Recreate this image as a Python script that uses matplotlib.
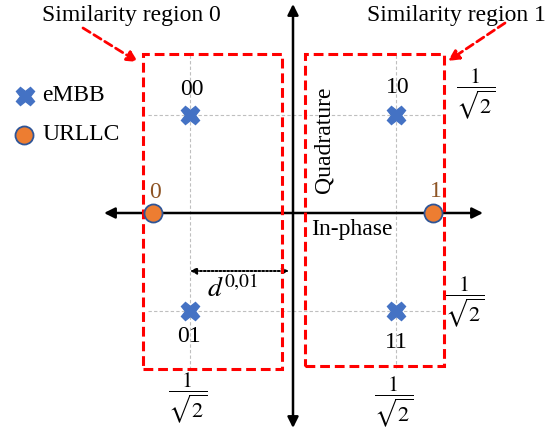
import matplotlib
matplotlib.use("Agg")
import matplotlib.pyplot as plt
from matplotlib.patches import Rectangle

# ---------------- data ----------------
embb_labels = ["00", "10", "01", "11"]
embb_i = [-1.0, 1.0, -1.0, 1.0]
embb_q = [1.0, 1.0, -1.0, -1.0]

urllc_labels = ["0", "1"]
urllc_i = [-1.36, 1.36]
urllc_q = [0.0, 0.0]

region_titles = ["Similarity region 0", "Similarity region 1"]
legend_names = ["eMBB", "URLLC"]
axis_names = ["In-phase", "Quadrature"]
frac_label = r"$\dfrac{1}{\sqrt{2}}$"
dist_label = r"$d^{0{,}01}$"

# ---------------- layout helpers ----------------
OX, OY, SX, SY = 293.0, 213.0, 103.0, 98.0   # pixel origin and unit sizes


def P(x, y):
    """pixel position -> data position (layout only)"""
    return ((x - OX) / SX, (OY - y) / SY)


plt.rcParams["font.family"] = ["Liberation Serif", "DejaVu Serif"]
plt.rcParams["mathtext.fontset"] = "stix"

fig = plt.figure(figsize=(5.59, 4.32), dpi=100)
ax = fig.add_axes([0, 0, 1, 1])
ax.set_xlim(-OX / SX, (559 - OX) / SX)
ax.set_ylim(-(432 - OY) / SY, OY / SY)
ax.axis("off")

blue = "#4472C4"
orange = "#ED7D31"
edge = "#2F5597"
brown = "#8E5424"
grid_c = "#BFBFBF"
FS = 17

# gray guide lines
for q in (1.0, -1.0):
    x0, _ = P(148, 0)
    x1, _ = P(445, 0)
    ax.plot([x0, x1], [q, q], color=grid_c, lw=0.8, ls=(0, (3, 2)), zorder=1)
for i in (-1.0, 1.0):
    _, y0 = P(0, 55)
    _, y1 = P(0, 368)
    ax.plot([i, i], [y0, y1], color=grid_c, lw=0.8, ls=(0, (3, 2)), zorder=1)

# axes arrows
ax.annotate("", xy=P(483, 213), xytext=P(104, 213),
            arrowprops=dict(arrowstyle="<|-|>", color="black", lw=1.8,
                            mutation_scale=16, shrinkA=0, shrinkB=0), zorder=3)
ax.annotate("", xy=P(293, 4), xytext=P(293, 428),
            arrowprops=dict(arrowstyle="<|-|>", color="black", lw=1.8,
                            mutation_scale=16, shrinkA=0, shrinkB=0), zorder=3)

# similarity region boxes
boxes = [((143, 54), (282, 369)), ((305, 54), (444, 366))]
for (a, b) in boxes:
    xa, ya = P(*a)
    xb, yb = P(*b)
    ax.add_patch(Rectangle((xa, yb), xb - xa, ya - yb, fill=False,
                           ec="#FF0000", lw=2.2, ls=(0, (3.2, 1.6)), zorder=4))

# region titles and arrows
ax.text(*P(131, 16), region_titles[0], fontsize=FS, ha="center", va="center")
ax.text(*P(456, 15), region_titles[1], fontsize=FS, ha="center", va="center")
ax.annotate("", xy=P(138, 62), xytext=P(83, 28),
            arrowprops=dict(arrowstyle="-|>", color="#FF0000", lw=2,
                            ls=(0, (3, 1.6)), mutation_scale=16,
                            shrinkA=0, shrinkB=0))
ax.annotate("", xy=P(448, 61), xytext=P(505, 23),
            arrowprops=dict(arrowstyle="-|>", color="#FF0000", lw=2,
                            ls=(0, (3, 1.6)), mutation_scale=16,
                            shrinkA=0, shrinkB=0))

# eMBB points
ax.plot(embb_i, embb_q, ls="none", marker="X", ms=13, color=blue,
        mec=blue, zorder=5)
embb_text_pos = [(192, 90), (398, 88), (189, 337), (396, 343)]
for lab, (px, py) in zip(embb_labels, embb_text_pos):
    ax.text(*P(px, py), lab, fontsize=FS, ha="center", va="center")

# URLLC points
ax.plot(urllc_i, urllc_q, ls="none", marker="o", ms=13, color=orange,
        mec=edge, mew=1.3, zorder=6)
urllc_text_pos = [(155, 193), (436, 192)]
for lab, (px, py) in zip(urllc_labels, urllc_text_pos):
    ax.text(*P(px, py), lab, fontsize=FS, ha="center", va="center",
            color=brown)

# legend
ax.plot(*P(25, 96), marker="X", ms=13, color=blue, ls="none")
ax.plot(*P(24, 135), marker="o", ms=13, color=orange, mec=edge, mew=1.3,
        ls="none")
ax.text(*P(42, 96), legend_names[0], fontsize=FS, ha="left", va="center")
ax.text(*P(42, 135), legend_names[1], fontsize=FS, ha="left", va="center")

# axis names
ax.text(*P(352, 230), axis_names[0], fontsize=FS, ha="center", va="center")
ax.text(*P(324, 140), axis_names[1], fontsize=FS, ha="center", va="center",
        rotation=90)

# fractions
for (px, py) in [(476, 94), (465, 302), (188, 398), (394, 402)]:
    ax.text(*P(px, py), frac_label, fontsize=16, ha="center", va="center")

# distance arrow
ax.annotate("", xy=P(289, 271), xytext=P(190, 271),
            arrowprops=dict(arrowstyle="<|-|>", color="black", lw=1.4,
                            ls=(0, (1, 1)), mutation_scale=9,
                            shrinkA=0, shrinkB=0))
ax.text(*P(233, 289), dist_label, fontsize=20, ha="center", va="center")

fig.savefig("out.png", dpi=100)
